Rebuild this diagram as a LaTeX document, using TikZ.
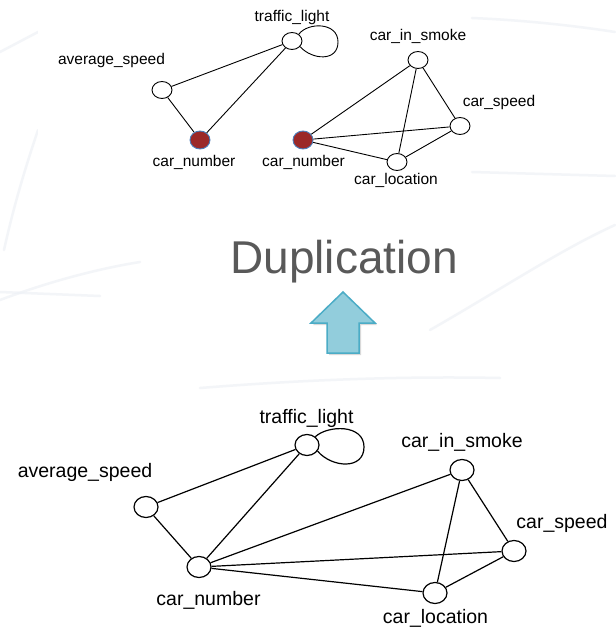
\documentclass[tikz,border=0pt]{standalone}
\usepackage{fontspec}
\setmainfont{Liberation Sans}
\usetikzlibrary{shapes.geometric}
\definecolor{streak}{RGB}{238,241,246}
\definecolor{redfill}{RGB}{155,40,40}
\definecolor{blueedge}{RGB}{74,126,187}
\definecolor{arrowfill}{RGB}{146,205,220}
\definecolor{arrowedge}{RGB}{75,172,198}
\definecolor{titlegray}{RGB}{89,89,89}
\tikzset{
  smallnode/.style={ellipse, draw=black, line width=0.9pt, fill=white, minimum width=20pt, minimum height=17pt, inner sep=0pt},
  rednode/.style={ellipse, draw=blueedge, line width=0.9pt, fill=redfill, minimum width=20pt, minimum height=18pt, inner sep=0pt},
  bignode/.style={ellipse, draw=black, line width=1.2pt, fill=white, minimum width=24pt, minimum height=21pt, inner sep=0pt},
  smalllabel/.style={anchor=base, inner sep=0pt, font=\fontsize{15.5}{18}\selectfont},
  biglabel/.style={anchor=base, inner sep=0pt, font=\fontsize{19.5}{22}\selectfont},
  smalledge/.style={line width=0.9pt},
  bigedge/.style={line width=1.2pt},
  streakline/.style={draw=streak, line width=2.5pt, line cap=round, opacity=0.7}
}
\begin{document}
\begin{tikzpicture}[x=1pt,y=-1pt]
\useasboundingbox (0,0) rectangle (615,631);
\fill[white] (0,0) rectangle (615,631);
% faint background streaks
\draw[streakline] (0,52) -- (38,32);
\draw[streakline] (4,250) .. controls (15,200) and (28,160) .. (38,130);
\draw[streakline] (0,300) .. controls (40,285) and (90,270) .. (140,262);
\draw[streakline] (0,292) -- (100,296);
\draw[streakline] (472,18) .. controls (520,20) and (570,25) .. (615,32);
\draw[streakline] (472,172) -- (615,176);
\draw[streakline] (430,330) .. controls (500,290) and (560,250) .. (615,225);
\draw[streakline] (200,388) .. controls (300,380) and (400,376) .. (500,378);
\fill[white] (38,0) rectangle (470,208);

% ---------- top graphs ----------
\node[smallnode] (tlT) at (292,41) {};
\node[smallnode] (avT) at (162,90) {};
\node[rednode] (cnL) at (200,140) {};
\node[rednode] (cnR) at (303,140) {};
\node[smallnode] (cisT) at (418,60) {};
\node[smallnode] (csT) at (460,126) {};
\node[smallnode] (clT) at (397,162) {};

\draw[smalledge] (avT) -- (tlT);
\draw[smalledge] (avT) -- (cnL);
\draw[smalledge] (tlT) -- (cnL);
\draw[smalledge] (tlT.45) .. controls (308,22) and (338,22) .. (338,42) .. controls (338,62) and (312,60) .. (tlT.-35);
\draw[smalledge] (cnR) -- (cisT);
\draw[smalledge] (cnR) -- (csT);
\draw[smalledge] (cnR) -- (clT);
\draw[smalledge] (cisT) -- (clT);
\draw[smalledge] (cisT) -- (csT);
\draw[smalledge] (csT) -- (clT);

\node[smalllabel] (tlTl) at (292,22) {traffic\_light};
\node[smalllabel] (avTl) at (111.5,65) {average\_speed};
\node[smalllabel] (cnLl) at (194,167) {car\_number};
\node[smalllabel] (cnRl) at (303.5,167) {car\_number};
\node[smalllabel] (cisTl) at (418,41) {car\_in\_smoke};
\node[smalllabel] (csTl) at (499,107) {car\_speed};
\node[smalllabel] (clTl) at (396,184) {car\_location};

% ---------- title and arrow ----------
\node[anchor=base, inner sep=0pt, text=titlegray, font=\fontsize{46}{50}\selectfont] (title) at (344,273) {Duplication};
\fill[black, opacity=0.15] (344.5,294.5) -- (377,325) -- (361,325) -- (361,355) -- (329,355) -- (329,325) -- (313,325) -- cycle;
\draw[draw=arrowedge, fill=arrowfill, line width=1.5pt, line join=miter] (343,292) -- (375,323) -- (359,323) -- (359,353) -- (327,353) -- (327,323) -- (311,323) -- cycle;

% ---------- bottom graph ----------
\node[bignode] (tlB) at (307,445) {};
\node[bignode] (avB) at (146,507) {};
\node[bignode] (cnB) at (199,567) {};
\node[bignode] (cisB) at (462,470) {};
\node[bignode] (csB) at (514,551) {};
\node[bignode] (clB) at (435,593) {};

\draw[bigedge] (avB) -- (tlB);
\draw[bigedge] (avB) -- (cnB);
\draw[bigedge] (tlB) -- (cnB);
\draw[bigedge] (tlB.45) .. controls (328,425) and (364,424) .. (364,447) .. controls (364,470) and (332,468) .. (tlB.-30);
\draw[bigedge] (cnB) -- (cisB);
\draw[bigedge] (cnB) -- (csB);
\draw[bigedge] (cnB) -- (clB);
\draw[bigedge] (cisB) -- (clB);
\draw[bigedge] (cisB) -- (csB);
\draw[bigedge] (csB) -- (clB);

\node[biglabel] (tlBl) at (306.5,423) {traffic\_light};
\node[biglabel] (avBl) at (85,477) {average\_speed};
\node[biglabel] (cnBl) at (208.5,605) {car\_number};
\node[biglabel] (cisBl) at (462,447) {car\_in\_smoke};
\node[biglabel] (csBl) at (562,528) {car\_speed};
\node[biglabel] (clBl) at (435.5,623) {car\_location};
\end{tikzpicture}
\end{document}
